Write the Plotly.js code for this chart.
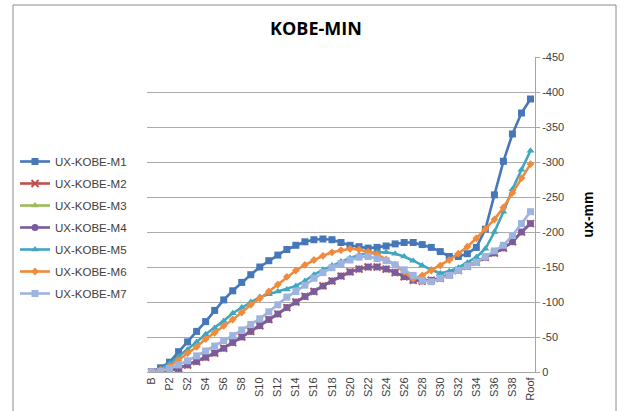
<!DOCTYPE html>
<html>
<head>
<meta charset="utf-8">
<script src="https://cdn.plot.ly/plotly-3.0.1.min.js"></script>
<style>html,body{margin:0;padding:0;background:#fff;}#chart{width:620px;height:411px;}</style>
</head>
<body>
<div id="chart"></div>
<script>
const categories = ["B","P1","P2","S1","S2","S3","S4","S5","S6","S7","S8","S9","S10","S11","S12","S13","S14","S15","S16","S17","S18","S19","S20","S21","S22","S23","S24","S25","S26","S27","S28","S29","S30","S31","S32","S33","S34","S35","S36","S37","S38","S39","Roof"];
const seriesNames = ["UX-KOBE-M1","UX-KOBE-M2","UX-KOBE-M3","UX-KOBE-M4","UX-KOBE-M5","UX-KOBE-M6","UX-KOBE-M7"];
const m1 = [0,-6,-14,-29,-43,-58,-72,-88,-103,-116,-128,-139,-150,-159,-167,-175,-181,-186,-189,-190,-189,-185,-181,-179,-177,-178,-180,-183,-185,-185,-182,-178,-172,-165,-165,-169,-178,-204,-253,-301,-340,-370,-390];
const m2 = [0,-0.5,-2,-5,-10,-15,-21,-27,-34,-42,-50,-58,-66,-75,-83,-92,-100,-108,-115,-123,-130,-137,-143,-147,-150,-150,-147,-142,-136,-131,-130,-131,-134,-139,-145,-151,-157,-164,-170,-177,-186,-200,-212];
const m3 = [0,-0.5,-2,-5,-10,-15,-21,-27,-34,-42,-50,-58,-66,-75,-83,-92,-100,-108,-115,-123,-130,-137,-143,-147,-150,-150,-147,-142,-136,-131,-130,-131,-134,-139,-145,-151,-157,-164,-170,-177,-186,-200,-212];
const m4 = [0,-0.5,-2,-5,-10,-15,-21,-27,-34,-42,-50,-58,-66,-75,-83,-92,-100,-108,-115,-123,-130,-137,-143,-147,-150,-150,-147,-142,-136,-131,-130,-131,-134,-139,-145,-151,-157,-164,-170,-177,-186,-200,-212];
const m5 = [0,-4,-12,-22,-32,-43,-54,-63,-73,-84,-92,-100,-107,-111,-115,-118,-123,-130,-139,-146,-152,-158,-163,-167,-170,-171,-171,-169,-165,-159,-152,-146,-141,-144,-149,-156,-164,-176,-200,-229,-261,-289,-316];
const m6 = [0,-3,-8,-17,-27,-36,-47,-56,-66,-75,-85,-96,-105,-115,-125,-136,-145,-153,-160,-166,-171,-174,-176,-175,-172,-168,-161,-153,-143,-133,-138,-145,-152,-160,-169,-179,-191,-204,-218,-235,-256,-277,-297];
const m7 = [0,-1,-5,-10,-16,-23,-30,-37,-45,-52,-60,-68,-76,-86,-96,-107,-115,-124,-134,-142,-149,-155,-160,-164,-165,-162,-159,-153,-146,-138,-131,-129,-134,-138,-145,-151,-157,-165,-173,-181,-195,-212,-229];
const yTickVals = [0,-50,-100,-150,-200,-250,-300,-350,-400,-450];
const yTickText = ["0","-50","-100","-150","-200","-250","-300","-350","-400","-450"];

const allSeries = [m1,m2,m3,m4,m5,m6,m7];
const colors = ["#4677B8","#C0504D","#9BBB59","#7A5C9E","#3FA6BF","#F08A3C","#9DB3E0"];
const symbols = ["square","x-thin-open","triangle-up","circle","triangle-up","diamond","square"];
const msize = [7,7,7,7,7,6,7];

const traces = allSeries.map((vals,i)=>({
  type:'scatter', mode:'lines+markers', name:seriesNames[i],
  x:categories, y:vals, legendgroup:'g'+i,
  line:{color:colors[i], width:2.6},
  marker:{symbol:symbols[i], size:msize[i], color:colors[i], line:{color:colors[i], width: symbols[i]==='x-thin-open'?2:0}}
}));

const PL=147, PR=535, PT=57, PB=372;
const pw=PR-PL, ph=PB-PT;
const px=v=>(v-PL)/pw, py=v=>(PB-v)/ph;

const layout = {
  width:620, height:411,
  margin:{l:PL, r:620-PR, t:PT, b:411-PB},
  paper_bgcolor:'#fff', plot_bgcolor:'#fff',
  font:{family:'"Liberation Sans", Arial, sans-serif', color:'#404040', size:11},
  title:{text:'<b>KOBE-MIN</b>', font:{family:'"Open Sans", sans-serif', size:18, color:'#000'},
         xref:'container', yref:'container', x:316/620, xanchor:'center', y:1-29/411, yanchor:'middle'},
  showlegend:true,
  legend:{x:px(15), xanchor:'left', y:py(147), yanchor:'top', font:{size:11.5, color:'#404040'},
          tracegroupgap:3, bgcolor:'rgba(0,0,0,0)', itemclick:false},
  xaxis:{type:'category', range:[-0.5, categories.length-0.5], tickmode:'array',
         tickvals:categories.filter((c,i)=>i%2===0), tickangle:-90,
         tickfont:{size:11, color:'#404040'}, showgrid:false, zeroline:false,
         showline:true, linecolor:'#A6A6A6', linewidth:1, ticks:'', automargin:false, fixedrange:true},
  yaxis:{side:'right', range:[0,-450], tickmode:'array', tickvals:yTickVals, ticktext:yTickText,
         showgrid:true, gridcolor:'#ABABAB', gridwidth:1, zeroline:false,
         showline:true, linecolor:'#A6A6A6', linewidth:1, ticks:'outside', ticklen:4, tickcolor:'#A6A6A6',
         tickfont:{size:11, color:'#404040'}, automargin:false, fixedrange:true,
         title:{text:'<b>ux-mm</b>', font:{size:14, color:'#000'}, standoff:19}},
  shapes:[{type:'rect', xref:'paper', yref:'paper', x0:px(13), x1:px(616), y0:py(416), y1:py(5),
           line:{color:'#8C8C8C', width:1}, fillcolor:'rgba(0,0,0,0)', layer:'below'}]
};

Plotly.newPlot('chart', traces, layout, {displayModeBar:false, staticPlot:true});
</script>
</body>
</html>
